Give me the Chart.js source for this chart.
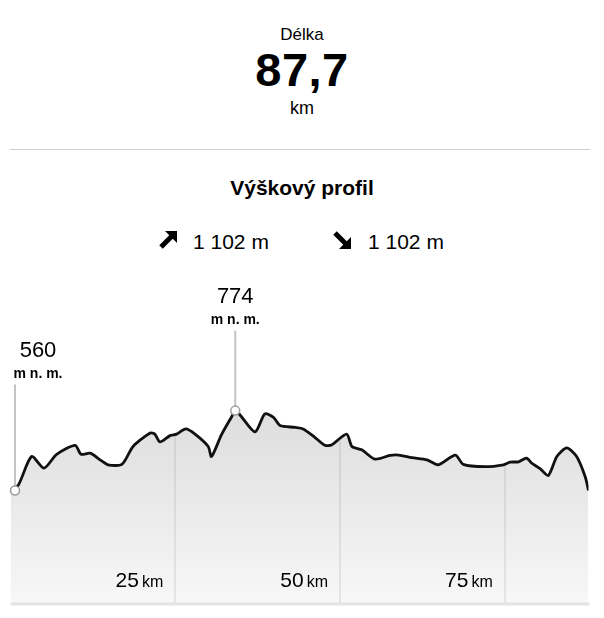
<!DOCTYPE html>
<html lang="cs">
<head>
<meta charset="UTF-8">
<title>Výškový profil</title>
<style>
  body { margin: 0; background: #fff; font-family: "Liberation Sans", Arial, sans-serif; color: #000; }
  #page { position: relative; width: 604px; height: 618px; overflow: hidden; }
  .t { position: absolute; line-height: 1; white-space: nowrap; }
  .c { left: 0; width: 604px; text-align: center; }
  #rule { position: absolute; left: 10px; top: 149px; width: 580px; height: 1px; background: #cfcfcf; }
  #chartBox { position: absolute; left: 0; top: 280px; width: 604px; height: 338px; }
  svg { position: absolute; }
</style>
</head>
<body>
<div id="page">
  <div class="t c" style="top:26px;font-size:17px;">Délka</div>
  <div class="t c" style="top:46px;font-size:47px;font-weight:bold;letter-spacing:0.5px;">87,7</div>
  <div class="t c" style="top:99px;font-size:18px;">km</div>
  <div id="rule"></div>
  <div class="t c" style="top:177px;font-size:21px;font-weight:bold;">Výškový profil</div>

  <svg style="left:158px;top:228px" width="22" height="22" viewBox="0 0 22 22">
    <line x1="3" y1="19" x2="14" y2="8" stroke="#000" stroke-width="5"/>
    <polygon points="7,3 19,3 19,15" fill="#000"/>
  </svg>
  <div class="t" style="left:193px;top:231px;font-size:21px;">1 102 m</div>

  <svg style="left:332px;top:230px" width="22" height="22" viewBox="0 0 22 22">
    <line x1="3" y1="3" x2="14" y2="14" stroke="#000" stroke-width="5"/>
    <polygon points="19,7 19,19 7,19" fill="#000"/>
  </svg>
  <div class="t" style="left:368px;top:231px;font-size:21px;">1 102 m</div>

  <div id="chartBox"><canvas id="profil"></canvas></div>
</div>

<script src="https://cdn.jsdelivr.net/npm/chart.js"></script>
<script>
// vzdalenost (km) a nadmorska vyska (m n. m.)
const distKm = [0, 1.2, 3.2, 5.1, 7.0, 9.8, 10.7, 12.1, 13.6, 14.8, 16.9, 18.6, 21.2, 21.9, 22.7, 24.2,
  25.2, 26.6, 28.0, 30.0, 30.5, 32.0, 33.6, 34.1, 34.8, 37.1, 38.6, 39.9, 40.9, 43.2, 44.4, 46.0,
  47.7, 48.7, 51.0, 51.8, 53.3, 55.3, 57.6, 58.9, 60.9, 63.2, 64.9, 67.5, 68.7, 72.0, 74.8, 75.8,
  77.1, 78.3, 79.1, 80.4, 81.6, 82.9, 84.4, 85.9, 87.2, 87.7];
const elevM = [560, 575, 651, 620, 657, 681, 657, 660, 642, 629, 630, 678, 714, 711, 690, 707,
  711, 725, 711, 678, 651, 709, 759, 774, 763, 717, 765, 756, 734, 729, 725, 705,
  681, 682, 711, 678, 669, 644, 654, 655, 648, 642, 629, 655, 630, 624, 629, 636,
  637, 647, 633, 618, 600, 651, 674, 651, 597, 560];
const xTicks = [25, 50, 75];
const totalKm = 87.7;
const yMin = 259, yMax = 1070;

const points = distKm.map((d, i) => ({ x: d, y: elevM[i] }));

// start a nejvyssi bod
let iMax = 0;
elevM.forEach((v, i) => { if (v > elevM[iMax]) iMax = i; });
const markers = [{ i: 0, lift: 106 }, { i: iMax, lift: 80 }];

function yAt(chart, km) {
  const meta = chart.getDatasetMeta(0);
  const xs = chart.scales.x;
  const px = xs.getPixelForValue(km);
  const pts = meta.data;
  for (let k = 1; k < pts.length; k++) {
    if (pts[k].x >= px) {
      const a = pts[k - 1], b = pts[k];
      return a.y + (b.y - a.y) * (px - a.x) / (b.x - a.x);
    }
  }
  return pts[pts.length - 1].y;
}

const profilePlugin = {
  id: 'profil',
  afterDatasetsDraw(chart) {
    const ctx = chart.ctx;
    const area = chart.chartArea;
    const xs = chart.scales.x;
    ctx.save();

    // svisle mrizky jen pod krivkou
    ctx.strokeStyle = 'rgba(0,0,0,0.07)';
    ctx.lineWidth = 2;
    xTicks.forEach(t => {
      const px = Math.round(xs.getPixelForValue(t));
      ctx.beginPath();
      ctx.moveTo(px, yAt(chart, t) + 2);
      ctx.lineTo(px, area.bottom);
      ctx.stroke();
    });

    // spodni linka
    ctx.strokeStyle = '#e4e4e4';
    ctx.lineWidth = 3;
    ctx.beginPath();
    ctx.moveTo(area.left, area.bottom + 1);
    ctx.lineTo(area.right + 1, area.bottom + 1);
    ctx.stroke();

    // popisky km
    ctx.fillStyle = '#000';
    ctx.textBaseline = 'alphabetic';
    ctx.textAlign = 'left';
    xTicks.forEach(t => {
      const px = xs.getPixelForValue(t);
      ctx.font = '16px "Liberation Sans", Arial';
      const wKm = ctx.measureText('km').width;
      ctx.font = '21px "Liberation Sans", Arial';
      const wNum = ctx.measureText(String(t)).width;
      const right = px - 12;
      ctx.fillText(String(t), right - wKm - 3 - wNum, area.bottom - 16);
      ctx.font = '16px "Liberation Sans", Arial';
      ctx.fillText('km', right - wKm, area.bottom - 16);
    });

    // znacky vysky
    const meta = chart.getDatasetMeta(0);
    markers.forEach(m => {
      const p = meta.data[m.i];
      const px = Math.max(p.x, area.left + 4.5);
      const py = p.y;
      const top = py - m.lift;
      ctx.strokeStyle = '#c4c4c4';
      ctx.lineWidth = 2;
      ctx.beginPath();
      ctx.moveTo(px, top);
      ctx.lineTo(px, py);
      ctx.stroke();
      ctx.beginPath();
      ctx.arc(px, py, 4.5, 0, Math.PI * 2);
      ctx.fillStyle = '#fff';
      ctx.fill();
      ctx.strokeStyle = '#9a9a9a';
      ctx.lineWidth = 1.5;
      ctx.stroke();

      ctx.font = 'bold 14px "Liberation Sans", Arial';
      const sub = 'm n. m.';
      const half = ctx.measureText(sub).width / 2;
      const cx = Math.max(px, area.left + 3 + half);
      ctx.fillStyle = '#000';
      ctx.textAlign = 'center';
      ctx.fillText(sub, cx, top - 7);
      ctx.font = '22px "Liberation Sans", Arial';
      ctx.fillText(String(elevM[m.i]), cx, top - 28);
    });
    ctx.restore();
  }
};

new Chart(document.getElementById('profil'), {
  type: 'line',
  data: {
    datasets: [{
      data: points,
      borderColor: '#111',
      borderWidth: 2.8,
      pointRadius: 0,
      tension: 0.25,
      fill: 'start',
      backgroundColor: (c) => {
        const a = c.chart.chartArea;
        if (!a) return '#e8e8e8';
        const g = c.chart.ctx.createLinearGradient(0, a.top + 100, 0, a.bottom);
        g.addColorStop(0, '#dcdcdc');
        g.addColorStop(1, '#f7f7f7');
        return g;
      }
    }]
  },
  options: {
    responsive: true,
    maintainAspectRatio: false,
    animation: false,
    layout: { padding: { left: 10.5, right: 15.5, top: 20, bottom: 15 } },
    plugins: { legend: { display: false }, tooltip: { enabled: false } },
    scales: {
      x: { type: 'linear', min: 0, max: totalKm, display: false },
      y: { min: yMin, max: yMax, display: false }
    }
  },
  plugins: [profilePlugin]
});
</script>
</body>
</html>
